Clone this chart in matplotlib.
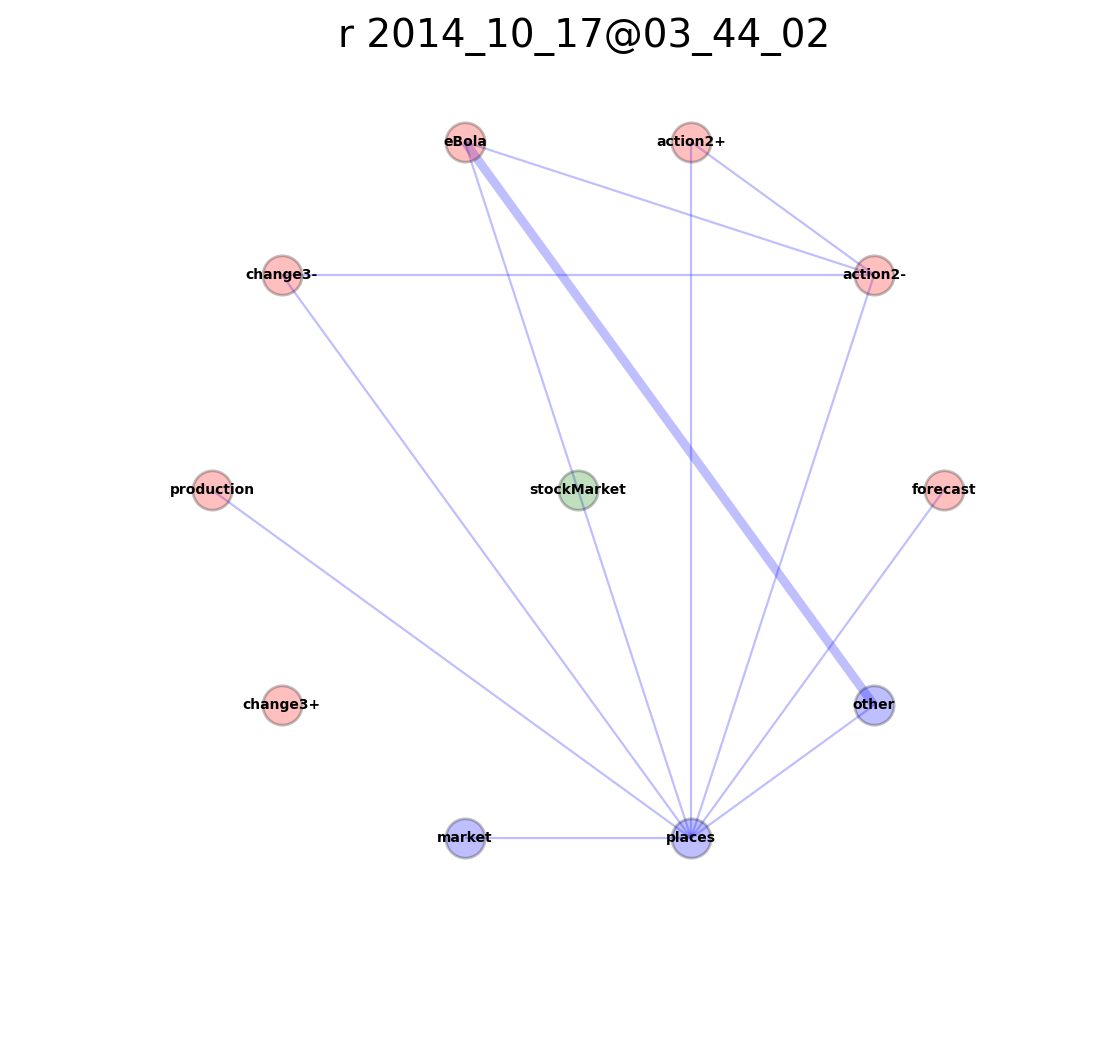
import matplotlib
matplotlib.use("Agg")
import matplotlib.pyplot as plt
import numpy as np

ring_nodes = ["forecast", "action2-", "action2+", "eBola", "change3-",
              "production", "change3+", "market", "places", "other"]
center_node = "stockMarket"
node_colors = {
    "forecast": "red", "action2-": "red", "action2+": "red", "eBola": "red",
    "change3-": "red", "production": "red", "change3+": "red",
    "market": "blue", "places": "blue", "other": "blue", "stockMarket": "green",
}
edges = [
    ("eBola", "action2-", 1), ("eBola", "stockMarket", 1), ("eBola", "other", 4),
    ("action2+", "action2-", 1), ("action2+", "places", 1),
    ("change3-", "action2-", 1), ("change3-", "places", 1),
    ("action2-", "places", 1), ("production", "places", 1),
    ("stockMarket", "places", 1), ("forecast", "places", 1),
    ("other", "places", 1), ("market", "places", 1),
]

# circular layout
pos = {center_node: (0.0, 0.0)}
for i, n in enumerate(ring_nodes):
    a = 2 * np.pi * i / len(ring_nodes)
    pos[n] = (np.cos(a), np.sin(a))

fig = plt.figure(figsize=(11.07, 10.58), dpi=100)
ax = fig.add_axes([0, 0, 1, 1])
ax.set_xlim(-578 / 366, (1107 - 578) / 366)
ax.set_ylim(-(1058 - 490) / 366, 490 / 366)
ax.axis("off")

for a, b, w in edges:
    (x1, y1), (x2, y2) = pos[a], pos[b]
    ax.plot([x1, x2], [y1, y2], color="blue", alpha=0.25, lw=1.6 * w,
            solid_capstyle="butt", zorder=1)

for n, (x, y) in pos.items():
    ax.scatter(x, y, s=800, color=node_colors[n], alpha=0.25,
               edgecolors="black", linewidths=2, zorder=2)
    ax.text(x, y, n, ha="center", va="center", fontsize=10,
            fontweight="bold", zorder=3)

fig.text(0.528, 1 - 37 / 1058, "r 2014_10_17@03_44_02", ha="center",
         va="center", fontsize=28)

fig.savefig("out.png", dpi=100)
